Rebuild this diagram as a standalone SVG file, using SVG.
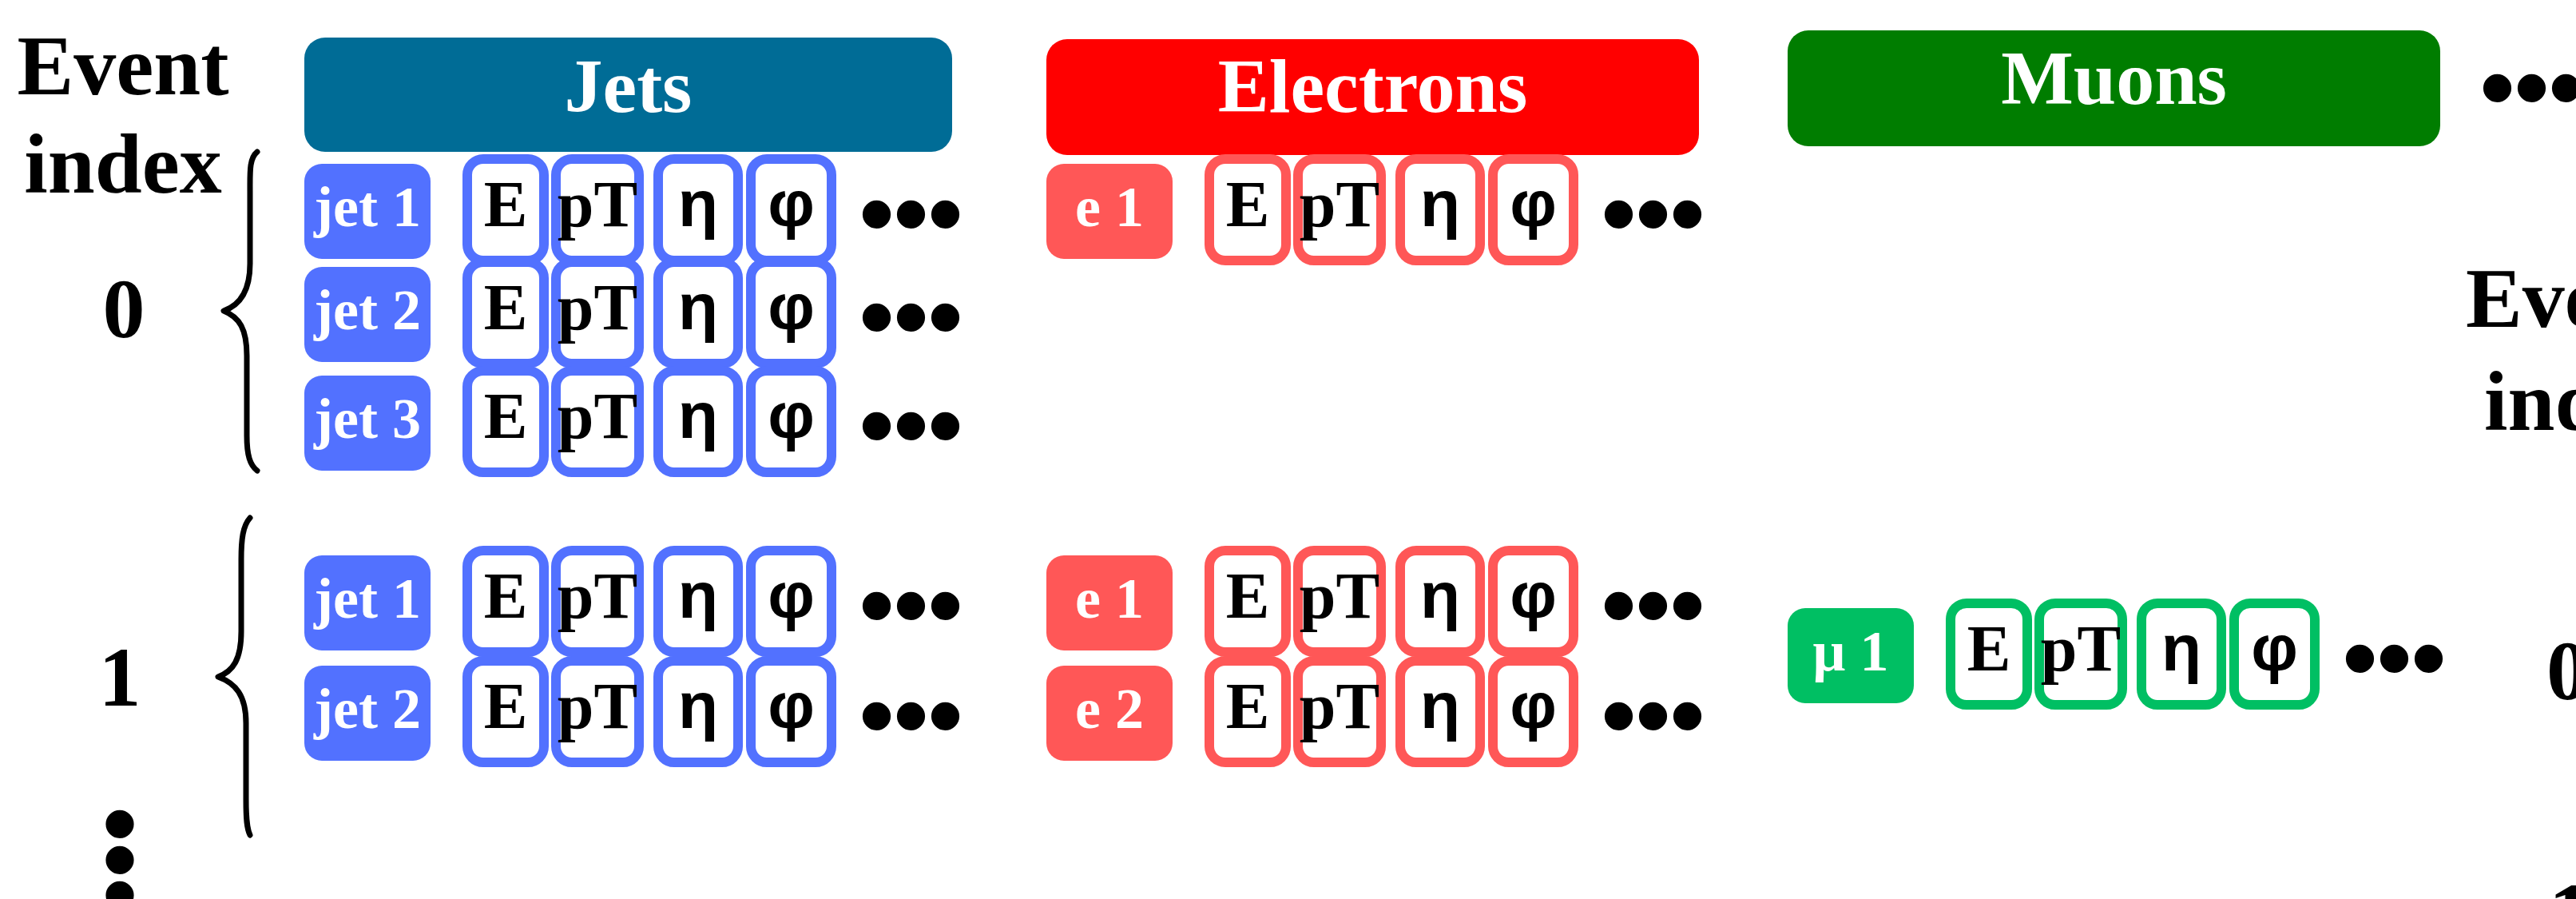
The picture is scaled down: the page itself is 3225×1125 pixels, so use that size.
<svg xmlns="http://www.w3.org/2000/svg" width="3225" height="1125" viewBox="0 0 3225 1125">
<defs>
<style>
.bg{fill:#ffffff}
.serif{font-family:"Liberation Serif","Times New Roman",serif;font-weight:bold}
.sans{font-family:"Liberation Sans",Arial,sans-serif;font-weight:bold}
.hdr{font-size:96px;fill:#ffffff;text-anchor:middle}
.big{font-size:106px;fill:#000000}
.lab{font-size:72px;fill:#ffffff;text-anchor:middle}
.cell{font-size:82px;fill:#000000;text-anchor:middle}
.dots{font-size:123px;fill:#000000}
.jl{fill:#5271ff}
.el{fill:#ff5757}
.ml{fill:#00bf63}
.jb{fill:#ffffff;stroke:#5271ff;stroke-width:12}
.eb{fill:#ffffff;stroke:#ff5757;stroke-width:12}
.mb{fill:#ffffff;stroke:#00bf63;stroke-width:12}
.brace{fill:none;stroke:#000000;stroke-width:7;stroke-linecap:round;stroke-linejoin:round}
</style>
</defs>
<rect class="bg" x="0" y="0" width="3225" height="1125"/>

<!-- headers -->
<g id="hdr-jets"><rect x="381" y="47" width="811" height="143" rx="26" fill="#006c96"/><text class="serif hdr" x="786.5" y="140">Jets</text></g>
<g id="hdr-electrons"><rect x="1310" y="49" width="817" height="145" rx="26" fill="#ff0000"/><text class="serif hdr" x="1718.5" y="140">Electrons</text></g>
<g id="hdr-muons"><rect x="2238" y="38" width="817" height="145" rx="26" fill="#007d00"/><text class="serif hdr" x="2646.5" y="130">Muons</text></g>
<g id="more-top"><text class="sans dots" x="3105" y="151">•••</text></g>

<!-- left event index -->
<g id="event-index-left">
<text class="serif big" x="154" y="118" text-anchor="middle">Event</text>
<text class="serif big" x="154" y="241" text-anchor="middle">index</text>
</g>
<g id="idx0"><text class="serif big" x="155" y="422" text-anchor="middle" font-size="112">0</text></g>
<g id="idx1"><text class="serif big" x="150" y="883" text-anchor="middle" font-size="112">1</text></g>
<g id="idx-more"><text class="sans dots" text-anchor="middle"><tspan x="150" y="1072">•</tspan><tspan x="150" y="1117">•</tspan><tspan x="150" y="1161">•</tspan></text></g>

<!-- right event index (cut off at the edge) -->
<g id="event-index-right">
<text class="serif big" x="3087" y="409" font-size="130">Event</text>
<text class="serif big" x="3110" y="538" font-size="130">index</text>
</g>
<g id="ridx0"><text class="serif big" x="3188" y="875" font-size="135">0</text></g>
<g id="ridx1"><text class="serif big" x="3191" y="1178" font-size="135">1</text></g>

<!-- braces -->
<g id="connectors">
<path class="brace" d="M 322,190 C 312,198 313,215 313,240 L 313,330 C 313,365 300,382 280,389 C 300,397 309,412 309,445 L 309,545 C 309,570 313,582 322,589"/>
<path class="brace" d="M 313,648 C 304,658 302,675 302,700 L 302,790 C 302,825 292,840 273,847 C 295,855 308,870 308,905 L 308,1000 C 308,1025 309,1037 313,1045"/>
</g>

<!-- Event 0 jets -->
<g id="e0-jet1">
<rect class="jl" x="381" y="205" width="158" height="119" rx="22"/><text class="serif lab" x="460" y="283">jet 1</text>
<rect class="jb" x="585" y="199" width="96" height="127" rx="20"/><text class="serif cell" x="633" y="283">E</text>
<rect class="jb" x="696" y="199" width="104" height="127" rx="20"/><text class="serif cell" x="748" y="283">pT</text>
<rect class="jb" x="824" y="199" width="100" height="127" rx="20"/><text class="sans cell" x="874" y="283">η</text>
<rect class="jb" x="940" y="199" width="101" height="127" rx="20"/><text class="sans cell" x="990.5" y="283">φ</text>
<text class="sans dots" x="1076" y="309">•••</text>
</g>
<g id="e0-jet2">
<rect class="jl" x="381" y="334" width="158" height="119" rx="22"/><text class="serif lab" x="460" y="412">jet 2</text>
<rect class="jb" x="585" y="328" width="96" height="127" rx="20"/><text class="serif cell" x="633" y="412">E</text>
<rect class="jb" x="696" y="328" width="104" height="127" rx="20"/><text class="serif cell" x="748" y="412">pT</text>
<rect class="jb" x="824" y="328" width="100" height="127" rx="20"/><text class="sans cell" x="874" y="412">η</text>
<rect class="jb" x="940" y="328" width="101" height="127" rx="20"/><text class="sans cell" x="990.5" y="412">φ</text>
<text class="sans dots" x="1076" y="438">•••</text>
</g>
<g id="e0-jet3">
<rect class="jl" x="381" y="470" width="158" height="119" rx="22"/><text class="serif lab" x="460" y="548">jet 3</text>
<rect class="jb" x="585" y="464" width="96" height="127" rx="20"/><text class="serif cell" x="633" y="548">E</text>
<rect class="jb" x="696" y="464" width="104" height="127" rx="20"/><text class="serif cell" x="748" y="548">pT</text>
<rect class="jb" x="824" y="464" width="100" height="127" rx="20"/><text class="sans cell" x="874" y="548">η</text>
<rect class="jb" x="940" y="464" width="101" height="127" rx="20"/><text class="sans cell" x="990.5" y="548">φ</text>
<text class="sans dots" x="1076" y="574">•••</text>
</g>

<!-- Event 0 electrons -->
<g id="e0-el1">
<rect class="el" x="1310" y="205" width="158" height="119" rx="22"/><text class="serif lab" x="1389" y="283">e 1</text>
<rect class="eb" x="1514" y="199" width="96" height="127" rx="20"/><text class="serif cell" x="1562" y="283">E</text>
<rect class="eb" x="1625" y="199" width="104" height="127" rx="20"/><text class="serif cell" x="1677" y="283">pT</text>
<rect class="eb" x="1753" y="199" width="100" height="127" rx="20"/><text class="sans cell" x="1803" y="283">η</text>
<rect class="eb" x="1869" y="199" width="101" height="127" rx="20"/><text class="sans cell" x="1919.5" y="283">φ</text>
<text class="sans dots" x="2005" y="309">•••</text>
</g>

<!-- Event 1 jets -->
<g id="e1-jet1">
<rect class="jl" x="381" y="695" width="158" height="119" rx="22"/><text class="serif lab" x="460" y="773">jet 1</text>
<rect class="jb" x="585" y="689" width="96" height="127" rx="20"/><text class="serif cell" x="633" y="773">E</text>
<rect class="jb" x="696" y="689" width="104" height="127" rx="20"/><text class="serif cell" x="748" y="773">pT</text>
<rect class="jb" x="824" y="689" width="100" height="127" rx="20"/><text class="sans cell" x="874" y="773">η</text>
<rect class="jb" x="940" y="689" width="101" height="127" rx="20"/><text class="sans cell" x="990.5" y="773">φ</text>
<text class="sans dots" x="1076" y="799">•••</text>
</g>
<g id="e1-jet2">
<rect class="jl" x="381" y="833" width="158" height="119" rx="22"/><text class="serif lab" x="460" y="911">jet 2</text>
<rect class="jb" x="585" y="827" width="96" height="127" rx="20"/><text class="serif cell" x="633" y="911">E</text>
<rect class="jb" x="696" y="827" width="104" height="127" rx="20"/><text class="serif cell" x="748" y="911">pT</text>
<rect class="jb" x="824" y="827" width="100" height="127" rx="20"/><text class="sans cell" x="874" y="911">η</text>
<rect class="jb" x="940" y="827" width="101" height="127" rx="20"/><text class="sans cell" x="990.5" y="911">φ</text>
<text class="sans dots" x="1076" y="937">•••</text>
</g>

<!-- Event 1 electrons -->
<g id="e1-el1">
<rect class="el" x="1310" y="695" width="158" height="119" rx="22"/><text class="serif lab" x="1389" y="773">e 1</text>
<rect class="eb" x="1514" y="689" width="96" height="127" rx="20"/><text class="serif cell" x="1562" y="773">E</text>
<rect class="eb" x="1625" y="689" width="104" height="127" rx="20"/><text class="serif cell" x="1677" y="773">pT</text>
<rect class="eb" x="1753" y="689" width="100" height="127" rx="20"/><text class="sans cell" x="1803" y="773">η</text>
<rect class="eb" x="1869" y="689" width="101" height="127" rx="20"/><text class="sans cell" x="1919.5" y="773">φ</text>
<text class="sans dots" x="2005" y="799">•••</text>
</g>
<g id="e1-el2">
<rect class="el" x="1310" y="833" width="158" height="119" rx="22"/><text class="serif lab" x="1389" y="911">e 2</text>
<rect class="eb" x="1514" y="827" width="96" height="127" rx="20"/><text class="serif cell" x="1562" y="911">E</text>
<rect class="eb" x="1625" y="827" width="104" height="127" rx="20"/><text class="serif cell" x="1677" y="911">pT</text>
<rect class="eb" x="1753" y="827" width="100" height="127" rx="20"/><text class="sans cell" x="1803" y="911">η</text>
<rect class="eb" x="1869" y="827" width="101" height="127" rx="20"/><text class="sans cell" x="1919.5" y="911">φ</text>
<text class="sans dots" x="2005" y="937">•••</text>
</g>

<!-- Event 1 muons -->
<g id="e1-mu1">
<rect class="ml" x="2238" y="761" width="158" height="119" rx="22"/><text class="serif lab" x="2317" y="839">μ 1</text>
<rect class="mb" x="2442" y="755" width="96" height="127" rx="20"/><text class="serif cell" x="2490" y="839">E</text>
<rect class="mb" x="2553" y="755" width="104" height="127" rx="20"/><text class="serif cell" x="2605" y="839">pT</text>
<rect class="mb" x="2681" y="755" width="100" height="127" rx="20"/><text class="sans cell" x="2731" y="839">η</text>
<rect class="mb" x="2797" y="755" width="101" height="127" rx="20"/><text class="sans cell" x="2847.5" y="839">φ</text>
<text class="sans dots" x="2933" y="865">•••</text>
</g>
</svg>
